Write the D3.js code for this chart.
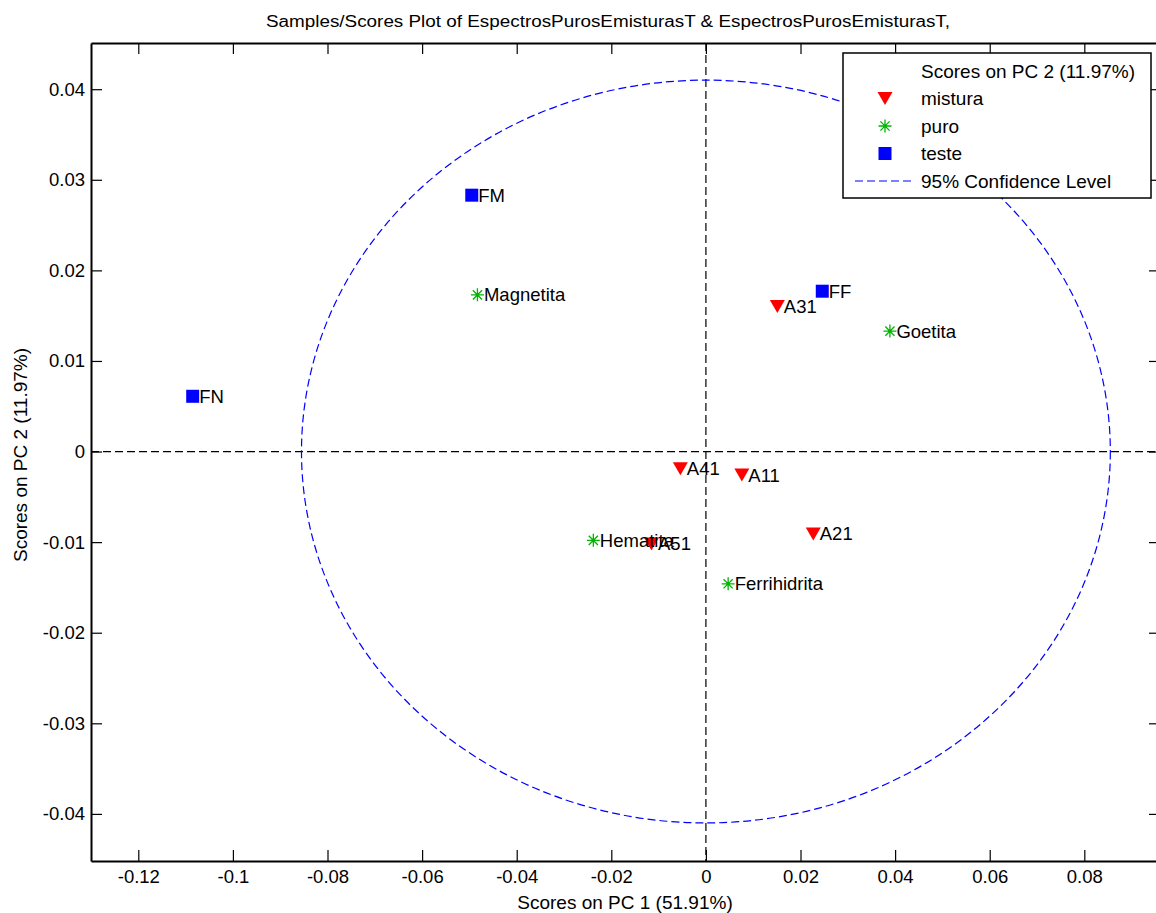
<!DOCTYPE html>
<html>
<head>
<meta charset="utf-8">
<script src="https://cdn.jsdelivr.net/npm/d3@7"></script>
<style>
  body { margin: 0; background: #fff; }
  text { font-family: "Liberation Sans", Arial, sans-serif; fill: #000; }
</style>
</head>
<body>
<div id="chart"></div>
<script>
// Scores data
const misturaNames = ["A11", "A21", "A31", "A41", "A51"];
const misturaPC1 = [0.0076, 0.0227, 0.0151, -0.0054, -0.0115];
const misturaPC2 = [-0.0026, -0.0091, 0.0160, -0.0019, -0.0102];

const puroNames = ["Magnetita", "Goetita", "Hematita", "Ferrihidrita"];
const puroPC1 = [-0.0483, 0.0389, -0.0238, 0.0047];
const puroPC2 = [0.0173, 0.0133, -0.0098, -0.0146];

const testeNames = ["FM", "FF", "FN"];
const testePC1 = [-0.0495, 0.0246, -0.1085];
const testePC2 = [0.0283, 0.0177, 0.0061];

// 95% confidence ellipse radii (PC1, PC2)
const confRadius = [0.0855, 0.041];

const xTicks = [-0.12, -0.1, -0.08, -0.06, -0.04, -0.02, 0, 0.02, 0.04, 0.06, 0.08];
const yTicks = [-0.04, -0.03, -0.02, -0.01, 0, 0.01, 0.02, 0.03, 0.04];

const W = 1156, H = 913;
const pL = 91, pR = 1160, pT = 43, pB = 861;

const svg = d3.select("#chart").append("svg")
    .attr("width", W)
    .attr("height", H);

const x = d3.scaleLinear().domain([-0.13, 0.096]).range([pL, pR]);
const y = d3.scaleLinear().domain([-0.0452, 0.0451]).range([pB, pT]);

const fmt = d => String(+d.toFixed(3));

// dashed zero lines
svg.append("line")
    .attr("x1", x(0)).attr("x2", x(0))
    .attr("y1", pT).attr("y2", pB)
    .attr("stroke", "#000").attr("stroke-width", 1.2)
    .attr("stroke-dasharray", "8,4");
svg.append("line")
    .attr("x1", pL).attr("x2", pR)
    .attr("y1", y(0)).attr("y2", y(0))
    .attr("stroke", "#000").attr("stroke-width", 1.2)
    .attr("stroke-dasharray", "8,4");

// confidence ellipse
svg.append("ellipse")
    .attr("cx", x(0)).attr("cy", y(0))
    .attr("rx", x(confRadius[0]) - x(0))
    .attr("ry", y(0) - y(confRadius[1]))
    .attr("fill", "none")
    .attr("stroke", "#0000ff")
    .attr("stroke-width", 1.2)
    .attr("stroke-dasharray", "8,4");

// axes
const fontSize = "18.5px";
function styleAxis(g) {
    g.attr("font-family", null).attr("font-size", null);
    g.select(".domain").attr("stroke-width", 2);
    g.selectAll(".tick line").attr("stroke-width", 1.2);
    g.selectAll(".tick text").style("font-size", fontSize).attr("fill", "#000");
}

svg.append("g")
    .attr("transform", `translate(0,${pB})`)
    .call(d3.axisBottom(x).tickValues(xTicks).tickFormat(fmt).tickSize(-11).tickSizeOuter(0).tickPadding(9))
    .call(styleAxis);

svg.append("g")
    .attr("transform", `translate(0,${pT})`)
    .call(d3.axisTop(x).tickValues(xTicks).tickFormat("").tickSize(-11).tickSizeOuter(0))
    .call(styleAxis);

svg.append("g")
    .attr("transform", `translate(${pL},0)`)
    .call(d3.axisLeft(y).tickValues(yTicks).tickFormat(fmt).tickSize(-11).tickSizeOuter(0).tickPadding(6))
    .call(styleAxis);

svg.append("g")
    .attr("transform", `translate(${pR},0)`)
    .call(d3.axisRight(y).tickValues(yTicks).tickFormat("").tickSize(-11).tickSizeOuter(0))
    .call(styleAxis);

// markers
const red = "#ff0000", green = "#00b400", blue = "#0000ff";
const triPath = "M-7.5,-6.5L7.5,-6.5L0,6.5Z";
const starPath = "M-6.5,0L6.5,0M0,-6.5L0,6.5M-4.6,-4.6L4.6,4.6M-4.6,4.6L4.6,-4.6";
const sqPath = "M-6.5,-6.5H6.5V6.5H-6.5Z";

function drawGroup(names, px, py, path, fill, stroke) {
    const pts = names.map((n, i) => ({ name: n, x: px[i], y: py[i] }));
    const g = svg.append("g");
    g.selectAll("path").data(pts).join("path")
        .attr("transform", d => `translate(${x(d.x)},${y(d.y)})`)
        .attr("d", path)
        .attr("fill", fill)
        .attr("stroke", stroke)
        .attr("stroke-width", stroke === "none" ? 0 : 1.3);
    g.selectAll("text").data(pts).join("text")
        .attr("x", d => x(d.x) + 6.5)
        .attr("y", d => y(d.y) + 6.5)
        .style("font-size", fontSize)
        .text(d => d.name);
}

drawGroup(misturaNames, misturaPC1, misturaPC2, triPath, red, "none");
drawGroup(puroNames, puroPC1, puroPC2, starPath, "none", green);
drawGroup(testeNames, testePC1, testePC2, sqPath, blue, "none");

// title and axis labels
svg.append("text")
    .attr("x", 608).attr("y", 27)
    .attr("text-anchor", "middle")
    .attr("textLength", 684)
    .attr("lengthAdjust", "spacingAndGlyphs")
    .style("font-size", "16px")
    .text("Samples/Scores Plot of EspectrosPurosEmisturasT & EspectrosPurosEmisturasT,");

svg.append("text")
    .attr("x", 625).attr("y", 909)
    .attr("text-anchor", "middle")
    .style("font-size", "19px")
    .text("Scores on PC 1 (51.91%)");

svg.append("text")
    .attr("transform", `translate(27,455) rotate(-90)`)
    .attr("text-anchor", "middle")
    .style("font-size", "19px")
    .text("Scores on PC 2 (11.97%)");

// legend
const lg = svg.append("g");
lg.append("rect")
    .attr("x", 843).attr("y", 53)
    .attr("width", 308).attr("height", 145)
    .attr("fill", "#fff")
    .attr("stroke", "#000")
    .attr("stroke-width", 1.5);

const legendItems = [
    { label: "Scores on PC 2 (11.97%)", type: "none" },
    { label: "mistura", type: "tri" },
    { label: "puro", type: "star" },
    { label: "teste", type: "sq" },
    { label: "95% Confidence Level", type: "line" }
];
const rowY = d3.scaleLinear().domain([0, 4]).range([77.5, 187.5]);

legendItems.forEach((it, i) => {
    const by = rowY(i);
    const cy = by - 6.5;
    if (it.type === "tri") {
        lg.append("path").attr("transform", `translate(885,${cy})`).attr("d", triPath).attr("fill", red);
    } else if (it.type === "star") {
        lg.append("path").attr("transform", `translate(885,${cy})`).attr("d", starPath)
            .attr("fill", "none").attr("stroke", green).attr("stroke-width", 1.3);
    } else if (it.type === "sq") {
        lg.append("path").attr("transform", `translate(885,${cy})`).attr("d", sqPath).attr("fill", blue);
    } else if (it.type === "line") {
        lg.append("line").attr("x1", 855).attr("x2", 913).attr("y1", cy).attr("y2", cy)
            .attr("stroke", blue).attr("stroke-width", 1.2).attr("stroke-dasharray", "8,4");
    }
    lg.append("text")
        .attr("x", 921).attr("y", by)
        .style("font-size", "19px")
        .text(it.label);
});
</script>
</body>
</html>
